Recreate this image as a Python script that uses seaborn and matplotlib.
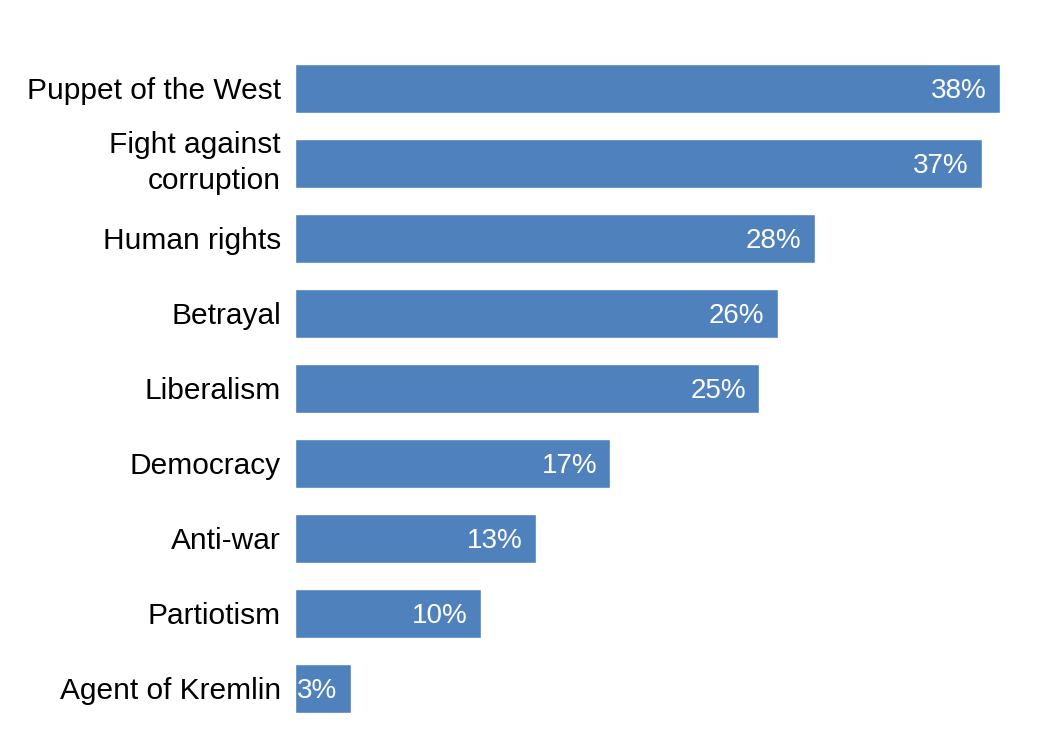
import seaborn as sns
import matplotlib.pyplot as plt
import pandas as pd

# Datos
categorias = ['Puppet of the West', 'Fight against\ncorruption', 'Human rights',
              'Betrayal', 'Liberalism', 'Democracy', 'Anti-war', 'Partiotism',
              'Agent of Kremlin']
valores = [38, 37, 28, 26, 25, 17, 13, 10, 3]

df = pd.DataFrame({'categoria': categorias, 'valor': valores})

sns.set_style('white')
plt.rcParams['font.family'] = ['Liberation Sans', 'DejaVu Sans']

fig = plt.figure(figsize=(10.42, 7.45), dpi=100)
ax = fig.add_axes([0.283, 0.026, 0.677, 0.906])

sns.barplot(data=df, y='categoria', x='valor', orient='h', color='#4F81BD',
            saturation=1, width=0.65, ax=ax)

ax.set_xlim(0, 38)
ax.set_ylim(8.5, -0.5)
ax.set_xlabel('')
ax.set_ylabel('')
ax.set_xticks([])
for lado in ['top', 'right', 'bottom', 'left']:
    ax.spines[lado].set_visible(False)
ax.tick_params(axis='y', length=0, pad=10, labelsize=21.5, labelcolor='black')
for lbl in ax.get_yticklabels():
    lbl.set_multialignment('right')
    lbl.set_linespacing(1.35)
    if '\n' in lbl.get_text():
        lbl.set_verticalalignment('center')

# Etiquetas de valor
for i, v in enumerate(valores):
    ax.annotate(f'{v}%', xy=(v, i), xytext=(-9.5, 0), textcoords='offset points',
                ha='right', va='center_baseline', color='white', fontsize=20)

plt.savefig('out.png', dpi=100)
